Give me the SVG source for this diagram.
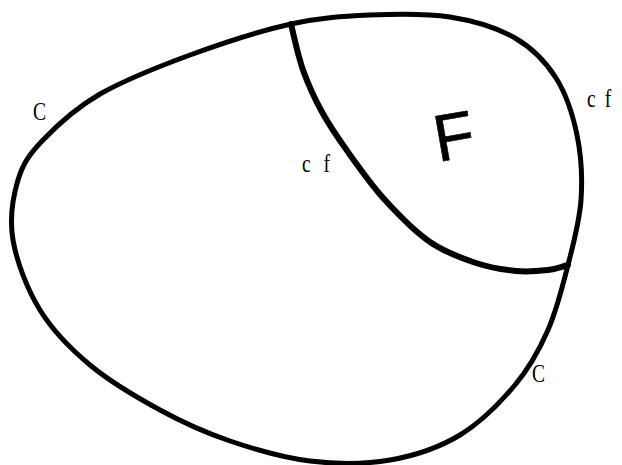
<svg xmlns="http://www.w3.org/2000/svg" width="622" height="465" viewBox="0 0 622 465">
<style>
.ln{fill:none;stroke:#000;stroke-linecap:round;stroke-linejoin:round}
.lbl{font-family:"Liberation Serif","Times New Roman",serif;font-size:26px;fill:#000}
.big{font-family:"Liberation Sans",Arial,sans-serif;font-size:66px;fill:#000;stroke:#000;stroke-width:0.6}
</style>
<rect width="622" height="465" fill="#fff"/>
<g id="connectors">
<path id="outer" class="ln" stroke-width="5" d="M291,24 C321,17.3 343.5,16.2 370,15 C396.5,13.8 425.8,13.2 450,17 C474.2,20.8 497.3,27.8 515,38 C532.7,48.2 545.7,61.8 556,78 C566.3,94.2 572.8,114.7 577,135 C581.2,155.3 582.5,178.3 581,200 C579.5,221.7 573.5,243.3 568,265 C562.5,286.7 556.8,310 548,330 C539.2,350 529.7,367.5 515,385 C500.3,402.5 480.8,422.5 460,435 C439.2,447.5 415,455.7 390,460 C365,464.3 336.7,464.2 310,461 C283.3,457.8 255,449.5 230,441 C205,432.5 183.3,422.7 160,410 C136.7,397.3 110,381.7 90,365 C70,348.3 52.7,330.8 40,310 C27.2,289.2 16.7,261.7 13,240 C9.3,218.3 13,196.7 18,180 C23,163.3 29.3,154.3 43,140 C56.7,125.7 75.5,108.2 100,94 C124.5,80.2 158.2,66.7 190,55 C221.8,43.3 261,30.7 291,24 Z"/>
<path id="inner" class="ln" stroke-width="6" d="M291,24 C294.7,39.3 297.8,55.3 303,70 C308.2,84.7 314.5,98.3 322,112 C329.5,125.7 337.5,137.3 348,152 C358.5,166.7 371.3,185 385,200 C398.7,215 414.8,231.5 430,242 C445.2,252.5 461.7,258.2 476,263 C490.3,267.8 504,269.8 516,271 C528,272.2 539.3,271 548,270 C556.7,269 561.3,266.7 568,265"/>
</g>
<g id="label-C-left"><text class="lbl" transform="translate(33 120) scale(0.75 1)">C</text></g>
<g id="label-cf-inner"><text class="lbl" transform="translate(302 172) scale(0.75 1)" letter-spacing="17">cf</text></g>
<g id="label-cf-right"><text class="lbl" transform="translate(587 107) scale(0.75 1)" letter-spacing="12">cf</text></g>
<g id="label-C-bottom"><text class="lbl" transform="translate(532 382) scale(0.75 1)">C</text></g>
<g id="label-F"><text class="big" x="438" y="162" transform="rotate(-10 438 162)">F</text></g>
</svg>
